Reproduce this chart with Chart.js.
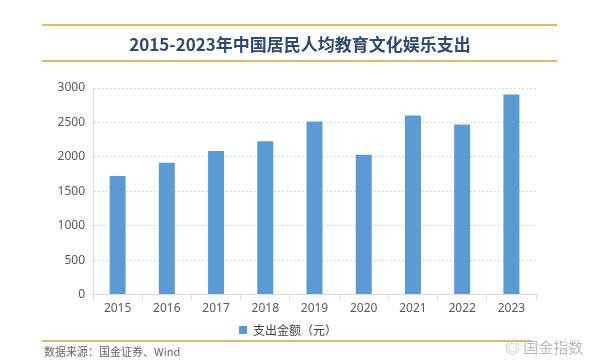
<!DOCTYPE html>
<html><head><meta charset="utf-8">
<script src="https://cdn.jsdelivr.net/npm/chart.js@4/dist/chart.umd.min.js"></script>
<style>
html,body{margin:0;padding:0;background:#fff;}
#wrap{position:relative;width:600px;height:360px;font-family:"Noto Sans CJK SC","Noto Sans",sans-serif;}
canvas{position:absolute;left:0;top:0;}
.line{position:absolute;left:42px;width:515px;height:2px;background:#D6BC6C;}
#title{position:absolute;left:0;width:600px;top:31px;text-align:center;font-size:17px;font-weight:bold;color:#2D4B70;}
#src{position:absolute;left:44px;top:343px;font-size:11px;color:#666;}
#wm{position:absolute;left:505px;top:336px;font-size:15px;color:#bbb;}
</style></head><body>
<div id="wrap">
<canvas id="c" width="600" height="360"></canvas>
<div class="line" style="top:24px"></div>
<div id="title">2015-2023年中国居民人均教育文化娱乐支出</div>
<div class="line" style="top:60px"></div>
<div class="line" style="top:340px;width:490px"></div>
<div id="src">数据来源：国金证券、Wind</div>
<div id="wm">◎ 国金指数</div>
</div>
<script>
const categories = ["2015","2016","2017","2018","2019","2020","2021","2022","2023"];
const spending = [1723,1915,2086,2226,2513,2032,2599,2469,2904];
const seriesName = "支出金额（元）";
const yTicks = [0,500,1000,1500,2000,2500,3000];

new Chart(document.getElementById('c'), {
  type: 'bar',
  data: { labels: categories, datasets: [{ label: seriesName, data: spending, backgroundColor: '#5B9BD5', barPercentage: 0.65, categoryPercentage: 0.5 }] },
  options: {
    responsive: false, animation: false,
    layout: { padding: { left: 40, right: 64, top: 88, bottom: 14 } },
    plugins: {
      legend: { position: 'bottom', labels: { boxWidth: 8, boxHeight: 8, color: '#444', font: { size: 12, family: '"Noto Sans CJK SC"' }, padding: 6 } },
      tooltip: { enabled: false }
    },
    scales: {
      x: {
        grid: { display: true, drawOnChartArea: false, offset: true, tickLength: 5, color: '#d9d9d9' },
        border: { color: '#d9d9d9' },
        ticks: { color: '#595959', font: { size: 12, family: '"Noto Sans"' }, padding: 2 }
      },
      y: {
        min: 0, max: 3000,
        afterFit: s => { s.width = 53; },
        afterBuildTicks: s => { s.ticks = yTicks.map(v => ({ value: v })); },
        grid: { color: '#d9d9d9', tickLength: 4, drawTicks: false },
        border: { color: '#d9d9d9', dash: [2,2] },
        ticks: { color: '#595959', font: { size: 12, family: '"Noto Sans"' }, padding: 8, callback: v => String(v) }
      }
    }
  }
});
</script>
</body></html>
